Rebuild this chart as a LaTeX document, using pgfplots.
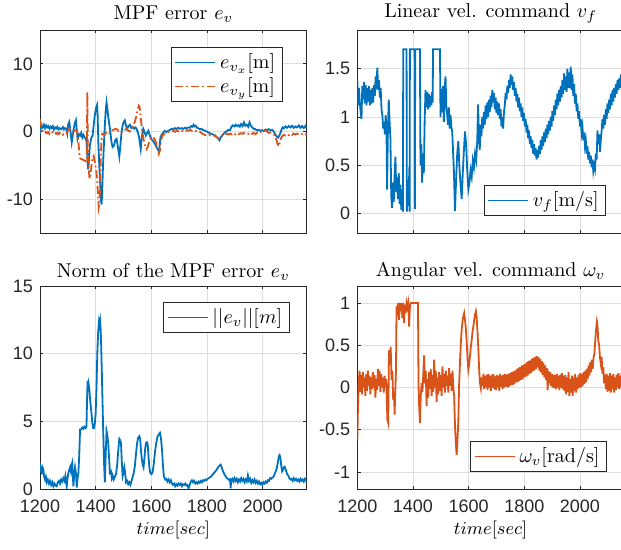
\documentclass[border=0pt]{standalone}
\usepackage{fontspec}
\setsansfont{Liberation Sans}
\usepackage{pgfplots}
\pgfplotsset{compat=1.18}
\definecolor{mblue}{RGB}{0,114,189}
\definecolor{morange}{RGB}{217,83,25}
\pgfplotsset{
  mstyle/.style={
    scale only axis, width=133.3pt, height=101.5pt,
    xmin=1200, xmax=2158, xtick={1200,1400,1600,1800,2000},
    grid=major, major grid style={black!13, line width=0.4pt},
    axis line style={black!85, line width=0.4pt},
    tick style={black!85, line width=0.4pt}, major tick length=1.6pt, tick align=inside,
    tick label style={font=\sffamily\fontsize{9}{10}\selectfont, text=black!85},
    xticklabel style={yshift=-2pt},
    /pgf/number format/assume math mode=true,
    /pgf/number format/1000 sep={},
    title style={yshift=-6pt, font=\fontsize{10}{12}\selectfont},
    legend style={draw=black!85, line width=0.4pt, font=\fontsize{10}{12}\selectfont,
      inner xsep=1.5pt, inner ysep=1pt, row sep=-1pt},
    legend cell align=left,
    legend image code/.code={\draw[#1] (0pt,0pt) -- (20pt,0pt);},
    every axis plot/.append style={line width=0.9pt},
    xlabel style={at={(0.5,0)}, anchor=base, yshift=-23pt, font=\fontsize{9.5}{11}\selectfont},
  }
}
\begin{document}
\begin{tikzpicture}
\useasboundingbox (0,0) rectangle (310.5pt,275pt);
% ---------- top left ----------
\begin{axis}[mstyle, at={(20pt,158.5pt)}, anchor=south west,
  ymin=-15, ymax=15, ytick={-10,0,10}, xticklabels={},
  title={MPF error $e_v$},
  legend style={at={(0.91,0.916)}, anchor=north east}]
\addplot[mblue] coordinates {
(1200,-0.40)(1203,0.50)(1206,0.90)(1210,0.60)(1214,1.00)(1218,0.50)(1222,0.90)(1226,0.60)(1230,0.80)(1234,0.40)
(1238,0.70)(1242,0.50)(1246,0.80)(1250,0.30)(1254,0.60)(1258,0.45)(1262,0.70)(1266,0.30)(1270,0.50)(1274,0.35)
(1278,0.40)(1282,0.65)(1286,0.30)(1290,0.50)(1294,0.40)(1298,-0.30)(1301,1.00)(1305,1.40)(1309,0.20)(1314,-1.60)
(1317,-0.80)(1320,0.15)(1325,1.20)(1329,1.65)(1332,0.30)(1335,-1.10)(1340,-0.40)(1344,-0.60)(1348,-0.20)(1352,-0.90)
(1356,-0.50)(1360,-0.80)(1364,-1.10)(1367,-1.35)(1370,-3.80)(1373,-5.60)(1376,-4.20)(1379,-2.10)(1384,-1.00)(1389,-0.60)
(1393,1.00)(1397,2.40)(1401,3.40)(1405,3.90)(1407,2.50)(1410,-2.10)(1413,-5.00)(1416,-7.50)(1419,-10.00)(1421,-10.80)
(1423,-9.50)(1426,-5.50)(1429,-2.50)(1433,0.90)(1436,3.00)(1439,4.30)(1442,3.40)(1445,2.20)(1448,1.40)(1452,0.20)
(1457,-1.60)(1461,-2.30)(1466,-2.10)(1470,-1.30)(1475,-1.10)(1480,-2.30)(1485,-3.70)(1489,-2.00)(1493,-0.10)(1497,0.90)
(1501,1.40)(1505,1.65)(1509,0.90)(1513,0.40)(1518,0.80)(1523,1.00)(1528,0.50)(1533,0.70)(1538,0.40)(1543,0.60)
(1547,0.40)(1552,-0.20)(1556,-0.85)(1560,-2.00)(1562,-2.60)(1566,-0.80)(1571,0.40)(1575,0.00)(1580,-0.60)(1585,-0.20)
(1589,0.10)(1594,-0.50)(1600,-1.10)(1606,-1.40)(1613,-1.85)(1619,-2.30)(1625,-2.80)(1629,-2.50)(1633,-0.85)(1638,-0.40)
(1642,-0.20)(1648,0.10)(1654,-0.10)(1660,0.10)(1666,0.20)(1672,0.40)(1678,0.30)(1684,0.50)(1690,0.35)(1696,0.55)
(1702,0.40)(1708,0.50)(1714,0.35)(1720,0.55)(1726,0.45)(1732,0.60)(1738,0.55)(1744,0.80)(1748,0.70)(1752,1.00)
(1756,0.75)(1760,0.85)(1764,0.55)(1768,0.50)(1774,0.35)(1780,0.40)(1786,0.20)(1792,0.15)(1798,0.00)(1804,-0.10)
(1810,-0.25)(1816,-0.35)(1822,-0.45)(1828,-0.55)(1834,-0.80)(1840,-1.05)(1845,-1.30)(1850,-0.80)(1855,-0.60)(1860,-0.30)
(1866,-0.10)(1872,0.10)(1878,0.25)(1883,0.20)(1888,0.70)(1893,0.90)(1898,0.75)(1903,1.00)(1908,0.80)(1913,0.95)
(1918,0.70)(1923,1.10)(1928,0.80)(1933,1.35)(1938,0.85)(1943,1.00)(1948,0.70)(1953,1.35)(1958,0.80)(1963,0.60)
(1968,0.40)(1974,0.35)(1980,0.15)(1986,0.25)(1992,0.10)(1998,0.20)(2004,0.05)(2010,0.30)(2016,0.20)(2022,0.35)
(2028,0.15)(2034,0.25)(2040,0.00)(2046,-0.50)(2052,-0.80)(2056,-0.90)(2060,-0.60)(2064,-0.20)(2068,0.30)(2072,0.60)
(2076,0.45)(2082,0.75)(2088,0.55)(2094,0.80)(2100,0.60)(2106,0.85)(2112,0.55)(2118,0.75)(2124,0.60)(2130,0.90)
(2136,0.55)(2142,0.80)(2148,0.50)(2154,0.85)(2158,0.60)};
\addlegendentry{$e_{v_x}[\mathrm{m}]$}
\addplot[morange, dash pattern=on 4pt off 1.5pt on 0.8pt off 1.5pt] coordinates {
(1200,1.80)(1203,1.20)(1206,0.40)(1210,0.10)(1214,-0.10)(1218,-0.30)(1222,-0.05)(1226,-0.25)(1230,-0.10)(1234,-0.35)
(1238,-0.15)(1242,-0.30)(1246,-0.10)(1250,-0.30)(1254,-0.15)(1258,-0.35)(1262,-0.20)(1266,-0.40)(1270,-0.20)(1274,-0.35)
(1278,-0.30)(1282,-0.50)(1286,-0.25)(1290,-0.40)(1295,-0.30)(1300,0.10)(1305,0.40)(1308,0.30)(1312,-0.20)(1316,-0.40)
(1320,-0.35)(1324,0.10)(1328,0.20)(1332,0.15)(1336,-0.60)(1339,-2.00)(1342,-3.60)(1345,-4.00)(1350,-4.10)(1355,-4.20)
(1360,-4.30)(1365,-4.40)(1368,-4.50)(1370,5.80)(1372,-3.00)(1375,-5.50)(1378,-7.00)(1381,-6.50)(1385,-5.00)(1389,-3.80)
(1393,-3.60)(1397,-4.50)(1401,-5.50)(1405,-7.00)(1408,-9.00)(1411,-11.20)(1414,-10.50)(1417,-6.50)(1420,-2.00)(1423,-0.40)
(1427,-0.30)(1432,-0.50)(1437,-0.20)(1442,-0.10)(1447,-0.40)(1452,-0.20)(1457,0.10)(1462,0.20)(1467,0.30)(1472,0.40)
(1477,0.30)(1482,0.10)(1487,0.20)(1492,0.00)(1497,-0.10)(1502,0.10)(1507,0.30)(1512,0.40)(1517,0.10)(1522,0.00)
(1527,0.30)(1532,0.60)(1537,1.00)(1542,1.60)(1547,2.40)(1551,3.20)(1555,3.80)(1558,3.60)(1561,2.40)(1565,0.90)
(1569,-0.40)(1573,-1.35)(1578,-2.20)(1583,-2.60)(1588,-2.20)(1593,-1.40)(1598,-1.00)(1603,-0.80)(1608,-0.90)(1613,-1.20)
(1618,-1.80)(1623,-2.60)(1627,-3.30)(1631,-2.80)(1635,-1.20)(1640,-0.60)(1645,-0.40)(1650,-0.30)(1656,-0.20)(1662,-0.10)
(1668,0.00)(1674,0.00)(1680,0.10)(1686,-0.05)(1692,0.15)(1698,0.00)(1704,0.15)(1710,0.05)(1716,0.20)(1722,0.05)
(1728,0.20)(1734,0.10)(1740,0.25)(1746,0.10)(1752,0.20)(1758,0.05)(1764,0.15)(1770,0.00)(1776,-0.05)(1782,-0.30)
(1788,-0.40)(1794,-0.55)(1800,-0.45)(1806,-0.60)(1812,-0.50)(1818,-0.65)(1824,-0.55)(1830,-0.70)(1836,-0.85)(1842,-1.05)
(1848,-0.90)(1854,-0.55)(1860,-0.40)(1866,-0.50)(1872,-0.30)(1878,-0.45)(1884,-0.30)(1890,-0.45)(1896,-0.25)(1902,-0.40)
(1908,-0.20)(1914,-0.40)(1920,-0.25)(1926,-0.35)(1932,-0.20)(1938,-0.40)(1944,-0.25)(1950,-0.35)(1956,-0.15)(1962,-0.35)
(1968,-0.20)(1974,-0.40)(1980,-0.20)(1986,-0.35)(1992,-0.10)(1998,0.05)(2004,0.20)(2010,0.10)(2016,0.00)(2022,-0.20)
(2028,-0.15)(2034,-0.30)(2040,-0.40)(2046,-0.80)(2050,-1.30)(2054,-1.90)(2058,-2.20)(2062,-1.60)(2066,-1.00)(2070,-0.70)
(2076,-0.50)(2082,-0.60)(2088,-0.40)(2094,-0.55)(2100,-0.35)(2106,-0.50)(2112,-0.30)(2118,-0.45)(2124,-0.30)(2130,-0.40)
(2136,-0.25)(2142,-0.40)(2148,-0.30)(2154,-0.40)(2158,-0.35)};
\addlegendentry{$e_{v_y}[\mathrm{m}]$}
\end{axis}
% ---------- top right ----------
\begin{axis}[mstyle, at={(178.65pt,158.5pt)}, anchor=south west,
  ymin=-0.2, ymax=1.9, ytick={0,0.5,1,1.5}, xticklabels={},
  title={Linear vel. command $v_f$},
  legend style={at={(0.933,0.084)}, anchor=south east}]
\addplot[mblue] coordinates {
(1200,1.38)(1203,1.12)(1206,1.30)(1209,1.15)(1212,1.05)(1215,0.98)(1218,1.32)(1221,1.18)(1224,1.36)(1227,1.14)
(1230,1.33)(1233,1.12)(1236,1.30)(1239,1.16)(1242,1.32)(1245,1.12)(1248,1.28)(1251,1.14)(1254,1.30)(1257,1.15)
(1260,1.33)(1263,1.22)(1266,1.42)(1269,1.36)(1272,1.51)(1275,1.28)(1278,1.38)(1281,1.20)(1284,1.30)(1287,1.08)
(1290,1.02)(1293,0.88)(1296,0.95)(1299,0.82)(1302,1.02)(1305,0.85)(1307,0.25)(1310,0.87)(1313,1.18)(1316,0.95)
(1319,0.78)(1322,0.18)(1325,0.06)(1328,0.32)(1331,0.12)(1334,0.40)(1337,0.59)(1340,0.22)(1343,0.38)(1346,0.15)
(1349,0.42)(1352,0.10)(1355,0.30)(1358,0.04)(1361,0.25)(1364,0.02)(1365,1.70)(1377,1.70)(1378,0.02)(1381,0.35)
(1384,0.08)(1387,0.48)(1388,0.02)(1389,1.70)(1406,1.70)(1407,0.05)(1408,1.70)(1425,1.70)(1427,0.50)(1430,0.72)
(1433,0.32)(1436,0.62)(1439,0.42)(1442,0.95)(1445,1.28)(1448,1.10)(1451,1.26)(1454,1.08)(1457,1.24)(1460,1.10)
(1463,1.22)(1466,1.12)(1469,1.26)(1471,1.15)(1472,1.70)(1497,1.70)(1499,1.00)(1502,1.29)(1505,1.05)(1508,1.32)
(1511,0.95)(1514,1.30)(1517,1.42)(1520,1.10)(1523,1.02)(1526,0.92)(1529,1.10)(1532,0.88)(1535,1.02)(1538,0.90)
(1541,0.85)(1544,0.65)(1547,0.45)(1551,0.03)(1555,0.35)(1559,0.62)(1563,0.75)(1567,0.48)(1571,0.30)(1575,0.15)
(1579,0.42)(1583,0.65)(1587,0.85)(1591,0.72)(1595,0.45)(1599,0.25)(1603,0.32)(1607,0.45)(1611,0.38)(1615,0.55)
(1619,0.48)(1623,0.62)(1627,0.55)(1631,0.75)(1634,1.13)(1637,0.80)(1640,0.66)(1643,0.92)(1646,0.80)(1649,1.00)
(1652,0.88)(1655,1.05)(1658,0.92)(1661,1.12)(1664,0.98)(1667,1.15)(1670,1.00)(1673,1.18)(1676,1.05)(1679,1.22)
(1682,1.10)(1685,1.28)(1688,1.15)(1691,1.25)(1694,1.08)(1697,1.20)(1700,1.04)(1703,1.16)(1706,1.02)(1709,1.14)
(1712,0.98)(1715,1.08)(1718,0.90)(1721,1.00)(1724,0.88)(1727,1.05)(1730,1.12)(1733,1.25)(1736,1.18)(1739,1.32)
(1742,1.25)(1745,1.38)(1748,1.30)(1751,1.44)(1754,1.33)(1757,1.42)(1760,1.28)(1763,1.36)(1766,1.22)(1769,1.30)
(1772,1.16)(1775,1.24)(1778,1.10)(1781,1.20)(1784,1.06)(1787,1.14)(1790,1.00)(1793,1.10)(1796,0.96)(1799,1.04)
(1802,0.90)(1805,0.98)(1808,0.84)(1811,0.92)(1814,0.78)(1817,0.86)(1820,0.72)(1823,0.80)(1826,0.68)(1829,0.76)
(1832,0.62)(1835,0.72)(1838,0.60)(1841,0.68)(1844,0.56)(1847,0.66)(1850,0.58)(1853,0.70)(1856,0.62)(1859,0.76)
(1862,0.66)(1865,0.80)(1868,0.70)(1871,0.84)(1874,0.74)(1877,0.88)(1880,0.78)(1883,0.92)(1886,0.82)(1889,0.96)
(1892,0.86)(1895,1.00)(1898,0.90)(1901,1.06)(1904,0.96)(1907,1.12)(1910,1.02)(1913,1.18)(1916,1.08)(1919,1.24)
(1922,1.12)(1925,1.28)(1928,1.16)(1931,1.32)(1934,1.20)(1937,1.38)(1940,1.24)(1943,1.45)(1946,1.28)(1949,1.42)
(1952,1.26)(1955,1.50)(1958,1.30)(1961,1.46)(1964,1.30)(1967,1.52)(1970,1.28)(1973,1.44)(1976,1.22)(1979,1.34)
(1982,1.14)(1985,1.24)(1988,1.06)(1991,1.14)(1994,0.98)(1997,1.06)(2000,0.90)(2003,0.98)(2006,0.84)(2009,0.90)
(2012,0.76)(2015,0.84)(2018,0.70)(2021,0.76)(2024,0.62)(2027,0.70)(2030,0.56)(2033,0.64)(2036,0.52)(2039,0.60)
(2042,0.48)(2045,0.56)(2048,0.44)(2051,0.50)(2054,0.46)(2057,0.62)(2060,0.56)(2063,0.86)(2066,0.72)(2069,0.82)
(2072,0.64)(2075,0.76)(2078,0.86)(2081,0.98)(2084,0.88)(2087,1.02)(2090,0.92)(2093,1.08)(2096,0.98)(2099,1.14)
(2102,1.04)(2105,1.18)(2108,1.08)(2111,1.24)(2114,1.12)(2117,1.28)(2120,1.16)(2123,1.30)(2126,1.20)(2129,1.34)
(2132,1.24)(2135,1.38)(2138,1.28)(2141,1.40)(2144,1.30)(2147,1.44)(2150,1.32)(2153,1.44)(2156,1.36)};
\addlegendentry{$v_f[\mathrm{m/s}]$}
\end{axis}
% ---------- bottom left ----------
\begin{axis}[mstyle, at={(20pt,30.5pt)}, anchor=south west,
  ymin=0, ymax=15, ytick={0,5,10,15},
  title={Norm of the MPF error $e_v$}, title style={yshift=-1pt},
  xlabel={$time[sec]$},
  legend style={at={(0.936,0.921)}, anchor=north east}]
\addplot[mblue] coordinates {
(1200,1.95)(1203,1.30)(1206,1.20)(1209,1.60)(1212,1.45)(1215,0.90)(1218,0.70)(1221,0.90)(1224,0.50)(1228,0.70)
(1232,0.40)(1236,0.60)(1240,0.30)(1244,0.50)(1248,0.20)(1252,0.40)(1256,0.25)(1260,0.20)(1264,0.50)(1268,0.60)
(1272,0.40)(1276,0.70)(1280,0.55)(1284,0.80)(1288,0.60)(1291,0.95)(1294,0.50)(1296,0.20)(1299,0.80)(1302,1.20)
(1305,1.40)(1308,1.60)(1311,1.30)(1314,1.80)(1316,1.95)(1318,1.00)(1320,0.20)(1323,1.00)(1326,1.60)(1329,1.20)
(1332,0.10)(1335,0.80)(1338,1.20)(1341,2.50)(1344,4.40)(1348,4.40)(1352,4.55)(1356,4.45)(1360,4.60)(1364,4.50)
(1367,4.60)(1369,6.50)(1371,8.00)(1373,7.20)(1375,7.70)(1377,7.40)(1380,6.60)(1384,5.80)(1388,4.90)(1391,4.50)
(1394,4.50)(1397,4.80)(1400,5.60)(1403,7.50)(1406,10.10)(1409,11.60)(1412,12.35)(1414,12.10)(1416,12.40)(1418,11.80)
(1420,10.50)(1422,8.80)(1424,7.00)(1427,4.40)(1430,2.00)(1433,0.50)(1436,2.50)(1439,4.30)(1442,4.00)(1445,3.40)
(1448,2.40)(1451,1.20)(1455,1.30)(1458,0.80)(1461,1.00)(1465,0.70)(1469,0.90)(1473,1.10)(1477,1.70)(1481,2.80)
(1485,3.70)(1488,3.60)(1491,3.40)(1494,2.00)(1497,0.95)(1500,1.20)(1503,1.60)(1506,1.20)(1509,0.50)(1513,0.60)
(1517,0.35)(1521,0.50)(1525,0.30)(1529,0.60)(1533,0.90)(1537,1.20)(1541,1.70)(1545,2.60)(1549,3.40)(1553,3.80)
(1557,3.90)(1560,3.70)(1563,2.80)(1566,2.20)(1569,1.80)(1572,1.60)(1575,2.20)(1578,3.00)(1581,3.40)(1584,3.45)
(1587,3.30)(1590,2.40)(1593,1.60)(1596,1.20)(1600,1.10)(1604,1.20)(1608,1.70)(1613,2.70)(1617,3.30)(1621,3.80)
(1626,4.00)(1631,4.15)(1635,3.70)(1639,2.70)(1642,1.70)(1645,0.95)(1650,0.70)(1654,0.75)(1658,0.55)(1662,0.70)
(1666,0.50)(1670,0.65)(1674,0.40)(1678,0.30)(1682,0.40)(1686,0.20)(1690,0.35)(1694,0.25)(1698,0.40)(1702,0.30)
(1706,0.40)(1710,0.20)(1714,0.35)(1718,0.30)(1722,0.40)(1726,0.25)(1730,0.30)(1734,0.05)(1738,0.30)(1742,0.55)
(1746,0.65)(1750,0.50)(1754,0.60)(1758,0.40)(1762,0.50)(1766,0.40)(1770,0.55)(1774,0.45)(1778,0.60)(1782,0.50)
(1786,0.65)(1790,0.60)(1794,0.70)(1798,0.65)(1802,0.75)(1806,0.80)(1810,0.85)(1814,0.90)(1818,1.00)(1822,1.10)
(1826,1.20)(1830,1.30)(1834,1.40)(1838,1.55)(1842,1.65)(1846,1.75)(1849,1.80)(1852,1.65)(1856,1.40)(1860,1.20)
(1864,1.05)(1868,0.90)(1872,0.80)(1876,0.75)(1880,0.65)(1883,0.70)(1885,0.05)(1887,0.60)(1891,0.75)(1895,0.55)
(1899,0.80)(1903,0.60)(1907,0.75)(1911,0.50)(1915,0.70)(1919,0.55)(1923,0.80)(1927,0.60)(1931,0.75)(1935,0.50)
(1939,0.70)(1943,0.55)(1947,1.00)(1951,0.60)(1955,0.75)(1959,0.45)(1963,0.65)(1967,0.50)(1971,0.70)(1975,0.45)
(1979,0.60)(1983,0.40)(1987,0.55)(1991,0.35)(1995,0.45)(1999,0.30)(2003,0.50)(2007,0.40)(2011,0.55)(2015,0.45)
(2019,0.65)(2023,0.60)(2027,0.80)(2031,0.75)(2035,0.85)(2039,0.90)(2043,1.10)(2047,1.30)(2051,1.55)(2055,2.00)
(2058,2.40)(2061,2.50)(2064,2.30)(2067,1.70)(2070,1.30)(2073,1.40)(2076,1.60)(2079,1.65)(2082,1.50)(2085,1.30)
(2088,1.10)(2092,1.00)(2096,0.80)(2100,0.70)(2104,0.75)(2108,0.60)(2112,0.80)(2116,0.65)(2120,0.75)(2124,0.60)
(2128,0.70)(2132,0.55)(2136,0.75)(2140,0.60)(2144,0.70)(2148,0.55)(2152,0.75)(2156,0.60)};
\addlegendentry{$||e_v||[m]$}
\end{axis}
% ---------- bottom right ----------
\begin{axis}[mstyle, at={(178.65pt,30.5pt)}, anchor=south west,
  ymin=-1.2, ymax=1.2, ytick={-1,-0.5,0,0.5,1},
  title={Angular vel. command $\omega_v$}, title style={yshift=-1pt},
  xlabel={$time[sec]$},
  legend style={at={(0.936,0.084)}, anchor=south east}]
\addplot[morange] coordinates {
(1200,-0.62)(1202,-0.30)(1205,0.05)(1208,0.20)(1211,-0.05)(1214,0.15)(1217,-0.08)(1220,0.18)(1223,0.00)(1226,0.12)
(1229,-0.10)(1232,0.16)(1235,-0.04)(1238,0.20)(1241,0.02)(1244,0.14)(1247,-0.08)(1250,0.12)(1253,-0.02)(1256,0.18)
(1259,0.00)(1262,0.15)(1265,-0.12)(1268,0.10)(1271,-0.03)(1274,0.22)(1277,0.02)(1280,0.20)(1283,-0.05)(1286,0.16)
(1289,0.00)(1292,0.12)(1295,-0.06)(1298,0.14)(1301,0.00)(1304,0.10)(1308,-0.38)(1311,-0.42)(1314,0.44)(1317,0.30)
(1320,0.48)(1323,0.09)(1326,0.20)(1329,-0.15)(1332,-0.05)(1334,-0.32)(1337,0.01)(1339,0.20)(1341,0.96)(1344,0.85)
(1347,1.00)(1350,0.80)(1353,1.00)(1356,0.90)(1359,1.00)(1362,0.82)(1365,1.00)(1368,0.76)(1371,0.98)(1374,0.88)
(1377,1.00)(1380,0.95)(1383,1.00)(1386,0.72)(1389,0.95)(1392,1.00)(1395,1.00)(1418,1.00)(1420,0.02)(1422,-0.20)
(1425,-0.42)(1428,-0.10)(1431,0.05)(1434,-0.05)(1437,0.15)(1440,0.38)(1443,0.05)(1446,0.20)(1449,-0.22)(1452,0.10)
(1455,-0.12)(1458,0.18)(1461,-0.02)(1464,0.22)(1467,-0.10)(1470,0.15)(1473,-0.05)(1476,0.33)(1479,0.00)(1482,0.20)
(1485,-0.17)(1488,0.12)(1491,-0.08)(1494,0.18)(1497,-0.04)(1500,0.15)(1503,-0.10)(1506,0.25)(1509,0.00)(1512,0.16)
(1515,-0.06)(1518,0.20)(1521,0.02)(1524,0.14)(1527,-0.06)(1530,0.23)(1533,0.02)(1536,0.16)(1539,-0.04)(1542,0.20)
(1545,0.00)(1548,-0.10)(1551,-0.45)(1554,-0.65)(1557,-0.80)(1560,-0.62)(1563,-0.40)(1566,0.05)(1569,0.30)(1572,0.52)
(1575,0.68)(1578,0.78)(1581,0.84)(1584,0.88)(1587,0.80)(1590,0.70)(1593,0.55)(1596,0.35)(1599,0.21)(1602,0.28)
(1605,0.37)(1608,0.48)(1611,0.56)(1614,0.66)(1617,0.72)(1620,0.80)(1623,0.86)(1626,0.90)(1629,0.82)(1632,0.66)
(1635,0.45)(1638,0.20)(1641,0.05)(1644,-0.01)(1647,0.12)(1650,0.02)(1653,0.16)(1656,-0.02)(1659,0.14)(1662,0.00)
(1665,0.15)(1668,-0.03)(1671,0.16)(1674,0.00)(1677,0.14)(1680,-0.04)(1683,0.15)(1686,0.00)(1689,0.16)(1692,-0.02)
(1695,0.13)(1698,-0.03)(1701,0.15)(1704,0.00)(1707,0.14)(1710,-0.04)(1713,0.16)(1716,0.01)(1719,0.14)(1722,-0.02)
(1725,0.15)(1728,0.00)(1731,0.16)(1734,0.01)(1737,0.15)(1740,0.00)(1743,0.16)(1746,0.01)(1749,0.17)(1752,0.03)
(1755,0.18)(1758,0.03)(1761,0.19)(1764,0.04)(1767,0.20)(1770,0.06)(1773,0.22)(1776,0.06)(1779,0.23)(1782,0.08)
(1785,0.24)(1788,0.09)(1791,0.26)(1794,0.10)(1797,0.27)(1800,0.12)(1803,0.28)(1806,0.13)(1809,0.30)(1812,0.14)
(1815,0.31)(1818,0.16)(1821,0.32)(1824,0.17)(1827,0.34)(1830,0.19)(1833,0.35)(1836,0.20)(1839,0.36)(1842,0.22)
(1845,0.37)(1848,0.24)(1851,0.36)(1854,0.20)(1857,0.34)(1860,0.18)(1863,0.31)(1866,0.15)(1869,0.29)(1872,0.12)
(1875,0.26)(1878,0.09)(1881,0.23)(1884,-0.03)(1887,0.20)(1890,0.05)(1893,0.18)(1896,0.02)(1899,0.16)(1902,0.00)
(1905,0.15)(1908,-0.01)(1911,0.15)(1914,-0.02)(1917,0.16)(1920,0.00)(1923,0.14)(1926,-0.03)(1929,0.15)(1932,0.00)
(1935,0.17)(1938,-0.02)(1941,0.14)(1944,-0.04)(1947,0.15)(1950,-0.08)(1953,0.12)(1956,-0.05)(1959,0.18)(1962,-0.10)
(1965,0.10)(1968,-0.06)(1971,0.14)(1974,-0.10)(1977,0.12)(1980,-0.04)(1983,0.16)(1986,-0.06)(1989,0.12)(1992,-0.02)
(1995,0.15)(1998,0.00)(2001,0.17)(2004,0.00)(2007,0.16)(2010,0.02)(2013,0.18)(2016,0.04)(2019,0.20)(2022,0.06)
(2025,0.22)(2028,0.10)(2031,0.26)(2034,0.14)(2037,0.30)(2040,0.18)(2043,0.33)(2046,0.22)(2049,0.36)(2052,0.40)
(2055,0.55)(2058,0.68)(2061,0.78)(2063,0.74)(2066,0.55)(2069,0.50)(2072,0.35)(2075,0.28)(2078,0.36)(2081,0.16)
(2084,0.24)(2087,0.05)(2090,0.15)(2093,-0.02)(2096,0.16)(2099,-0.05)(2102,0.14)(2105,-0.04)(2108,0.17)(2111,-0.06)
(2114,0.14)(2117,-0.02)(2120,0.16)(2123,-0.06)(2126,0.12)(2129,-0.03)(2132,0.15)(2135,0.00)(2138,0.17)(2141,-0.02)
(2144,0.14)(2147,0.00)(2150,0.18)(2153,-0.04)(2156,0.12)};
\addlegendentry{$\omega_v[\mathrm{rad/s}]$}
\end{axis}
\end{tikzpicture}
\end{document}
